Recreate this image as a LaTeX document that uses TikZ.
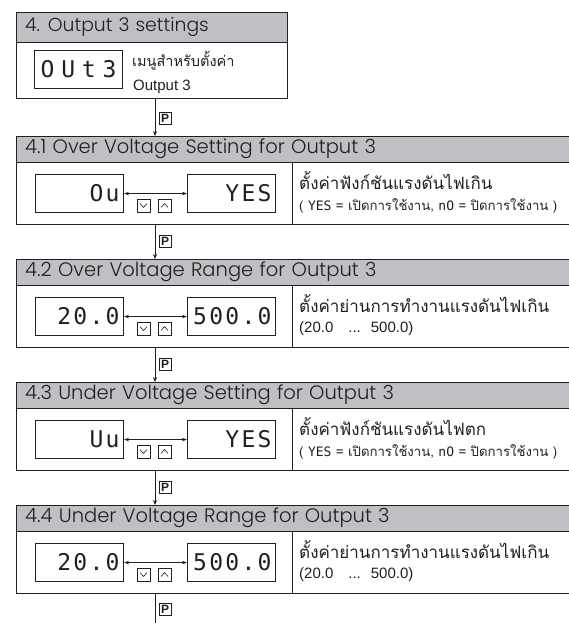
\documentclass[tikz,border=0pt]{standalone}
\usepackage{fontspec}
\setmainfont{Liberation Sans}
\newfontfamily\hdfont{Poppins}[UprightFont={* Light}, WordSpace=1.17]
\newfontfamily\thaifont[Script=Thai]{Loma}
\newfontfamily\segfont[LetterSpace=10]{DejaVu Sans Mono}
\newfontfamily\segwide[LetterSpace=30]{DejaVu Sans Mono}
\newfontfamily\segsmfont{DejaVu Sans Mono}
\usetikzlibrary{arrows.meta}
\definecolor{hdgray}{RGB}{192,192,196}
\definecolor{ink}{RGB}{35,31,32}
\tikzset{
  frame/.style={draw=ink, line width=0.9pt},
  hdrbox/.style={frame, fill=hdgray, minimum width=560pt, minimum height=26pt, inner sep=0pt, anchor=north west},
  bodybox/.style={frame, minimum width=560pt, minimum height=62pt, inner sep=0pt, anchor=north west},
  hdtxt/.style={anchor=west, inner sep=0pt, text=ink, font=\hdfont\fontsize{19.5}{20}\selectfont},
  disp/.style={draw=ink, line width=1.1pt, anchor=north west, minimum height=38pt, text width=80pt, inner xsep=4pt, inner ysep=0pt, align=right, text=ink, font=\segfont\fontsize{23}{23}\selectfont},
  thai/.style={anchor=west, inner sep=0pt, text=ink, font=\thaifont\fontsize{13.2}{15}\selectfont},
  thaitop/.style={anchor=west, inner sep=0pt, text=ink, font=\thaifont\fontsize{14.5}{16}\selectfont},
  thaibig/.style={anchor=west, inner sep=0pt, text=ink, font=\thaifont\fontsize{17}{19}\selectfont},
  small/.style={anchor=west, inner sep=0pt, text=ink, font=\fontsize{15}{17}\selectfont},
  pkey/.style={draw=ink, line width=0.8pt, minimum size=12pt, inner sep=0pt, text=ink, font=\bfseries\fontsize{12}{12}\selectfont},
  parrow/.style={draw=ink, line width=1pt, -{Stealth[length=5pt, width=4pt]}},
  dblarrow/.style={draw=ink, line width=0.8pt, {Stealth[length=5pt, width=3.5pt]}-{Stealth[length=5pt, width=3.5pt]}},
  btn/.style={draw=ink, line width=0.7pt, minimum size=13pt, inner sep=0pt, anchor=north west},
  chev/.style={draw=ink, line width=0.6pt},
  divline/.style={draw=ink, line width=0.9pt}
}
\newcommand\segsm[1]{{\segsmfont\fontsize{13}{13}\selectfont #1}}
\newcommand\rangetxt{{\fontspec{Liberation Sans}\fontsize{15}{17}\selectfont (20.0\hspace{15pt}...\hspace{10pt}500.0)}}
\newcommand\mysec[7]{%
  \begin{scope}[yshift=-#1pt]
    \node[hdrbox] (h#2) at (16,136) {};
    \node[hdtxt] (ht#2) at (25,149) {#3};
    \node[bodybox] (b#2) at (16,162) {};
    \draw[divline] (292,162) -- (292,224);
    \node[disp] (l#2) at (35,174) {#4};
    \node[disp] (r#2) at (187,174) {#5};
    \draw[dblarrow] (l#2.east) -- (r#2.west);
    \node[btn] (dn#2) at (137,199) {};
    \node[btn] (up#2) at (158,199) {};
    \draw[chev] (140,203.5) -- (143.5,207.5) -- (147,203.5);
    \draw[chev] (161,207.5) -- (164.5,203.5) -- (168,207.5);
    \node[thaibig] (ta#2) at (299,181) {#6};
    \node[thai] (tb#2) at (299,206) {#7};
  \end{scope}}
\begin{document}
\begin{tikzpicture}[x=1pt, y=-1pt]
  \useasboundingbox (0,0) rectangle (569,623);
  \clip (0,0) rectangle (569,623);
  % top box
  \node[frame, fill=hdgray, minimum width=271pt, minimum height=30pt, anchor=north west, inner sep=0pt] (th) at (16,12) {};
  \node[hdtxt, font=\hdfont\fontsize{18.8}{20}\selectfont] (tht) at (25,27) {4. Output 3 settings};
  \node[frame, minimum width=271pt, minimum height=56pt, anchor=north west, inner sep=0pt] (tb) at (16,42) {};
  \node[disp, font=\segwide\fontsize{23}{23}\selectfont, align=center] (to) at (34,50) {OUt3};
  \node[thaitop] (tm) at (132,61) {เมนูสำหรับตั้งค่า};
  \node[small] (tout) at (133,87) {Output 3};
  % sections
  \mysec{0}{1}{4.1 Over Voltage Setting for Output 3}{Ou}{YES}{ตั้งค่าฟังก์ชันแรงดันไฟเกิน}{( \segsm{YES} = เปิดการใช้งาน, \segsm{nO} = ปิดการใช้งาน )}
  \mysec{123}{2}{4.2 Over Voltage Range for Output 3}{20.0}{500.0}{ตั้งค่าย่านการทำงานแรงดันไฟเกิน}{\rangetxt}
  \mysec{246}{3}{4.3 Under Voltage Setting for Output 3}{Uu}{YES}{ตั้งค่าฟังก์ชันแรงดันไฟตก}{( \segsm{YES} = เปิดการใช้งาน, \segsm{nO} = ปิดการใช้งาน )}
  \mysec{369}{4}{4.4 Under Voltage Range for Output 3}{20.0}{500.0}{ตั้งค่าย่านการทำงานแรงดันไฟเกิน}{\rangetxt}
  % connectors
  \coordinate (endpt) at (155,630);
  \draw[parrow] ([xshift=139pt]tb.south west) -- ([xshift=139pt]h1.north west);
  \draw[parrow] ([xshift=139pt]b1.south west) -- ([xshift=139pt]h2.north west);
  \draw[parrow] ([xshift=139pt]b2.south west) -- ([xshift=139pt]h3.north west);
  \draw[parrow] ([xshift=139pt]b3.south west) -- ([xshift=139pt]h4.north west);
  \draw[parrow] ([xshift=139pt]b4.south west) -- (endpt);
  \node[pkey] (p0) at (165,118) {P};
  \node[pkey] (p1) at (165,241) {P};
  \node[pkey] (p2) at (165,364) {P};
  \node[pkey] (p3) at (165,487) {P};
  \node[pkey] (p4) at (165,609) {P};
\end{tikzpicture}
\end{document}
